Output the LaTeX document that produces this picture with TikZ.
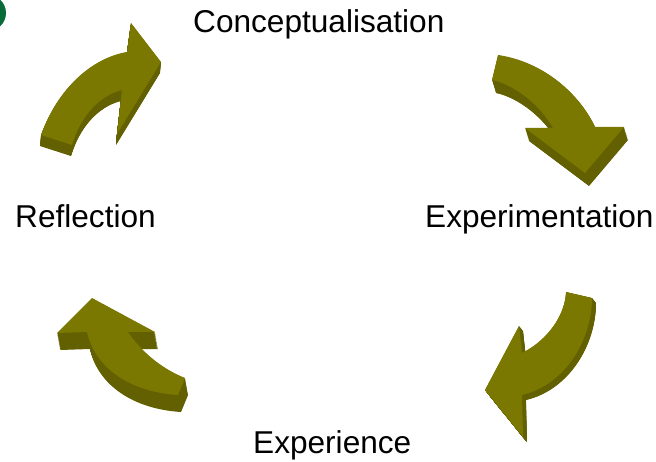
\documentclass[tikz,border=0pt]{standalone}
\usepackage{fontspec}
\setmainfont{Liberation Sans}
\usepackage{tikz}
\usetikzlibrary{positioning}

\definecolor{olivetop}{RGB}{122,120,0}
\definecolor{oliveside}{RGB}{98,96,0}
\definecolor{dotgreen}{RGB}{8,108,56}

\tikzset{
	stage/.style={font=\fontsize{31.6}{36}\selectfont, inner sep=0pt, anchor=base west},
	face/.style={fill=olivetop},
	side/.style={fill=oliveside},
}

\def\arrowNW{(41,135) .. controls (58,88) and (92,58) .. (127,52) -- (131,23) -- (161,62) -- (117,134) -- (122,90) .. controls (98,96) and (80,118) .. (72,145) -- cycle}
\def\arrowNE{(498,55) .. controls (545,62) and (580,95) .. (595,127) -- (624,127) -- (585,173) -- (525,128) -- (553,128) .. controls (540,105) and (515,85) .. (492,80) -- cycle}
\def\arrowSE{(566,292) -- (592,298) .. controls (592,340) and (565,385) .. (522,395) -- (523,437) -- (485,390) -- (519,326) -- (522,353) .. controls (548,340) and (565,315) .. cycle}
\def\arrowSW{(92,298) -- (155,332) -- (128,332) .. controls (140,350) and (160,368) .. (185,378) -- (178,395) .. controls (130,392) and (95,368) .. (87,332) -- (57,333) -- cycle}

\begin{document}
\begin{tikzpicture}[x=1pt, y=-1pt]
	\useasboundingbox (0,0) rectangle (656,462);

	\fill [dotgreen] (-12,13) circle (18pt);

	\begin{scope}
		\foreach \k in {1,...,30}
			\fill [side, shift={(-\k/30, 11*\k/30)}] \arrowNW;
		\fill [face] \arrowNW;
	\end{scope}

	\begin{scope}
		\foreach \k in {1,...,30}
			\fill [side, shift={(4*\k/30, 13*\k/30)}] \arrowNE;
		\fill [face] \arrowNE;
	\end{scope}

	\begin{scope}
		\foreach \k in {1,...,30}
			\fill [side, shift={(4*\k/30, 5*\k/30)}] \arrowSE;
		\fill [face] \arrowSE;
	\end{scope}

	\begin{scope}
		\foreach \k in {1,...,30}
			\fill [side, shift={(3*\k/30, 17*\k/30)}] \arrowSW;
		\fill [face] \arrowSW;
	\end{scope}

	\node [stage] (concept) at (193,33) {Conceptualisation};
	\node [stage] (experiment) at (425,228) {Experimentation};
	\node [stage] (experience) at (253,453) {Experience};
	\node [stage] (reflect) at (15,228) {Reflection};
\end{tikzpicture}
\end{document}
